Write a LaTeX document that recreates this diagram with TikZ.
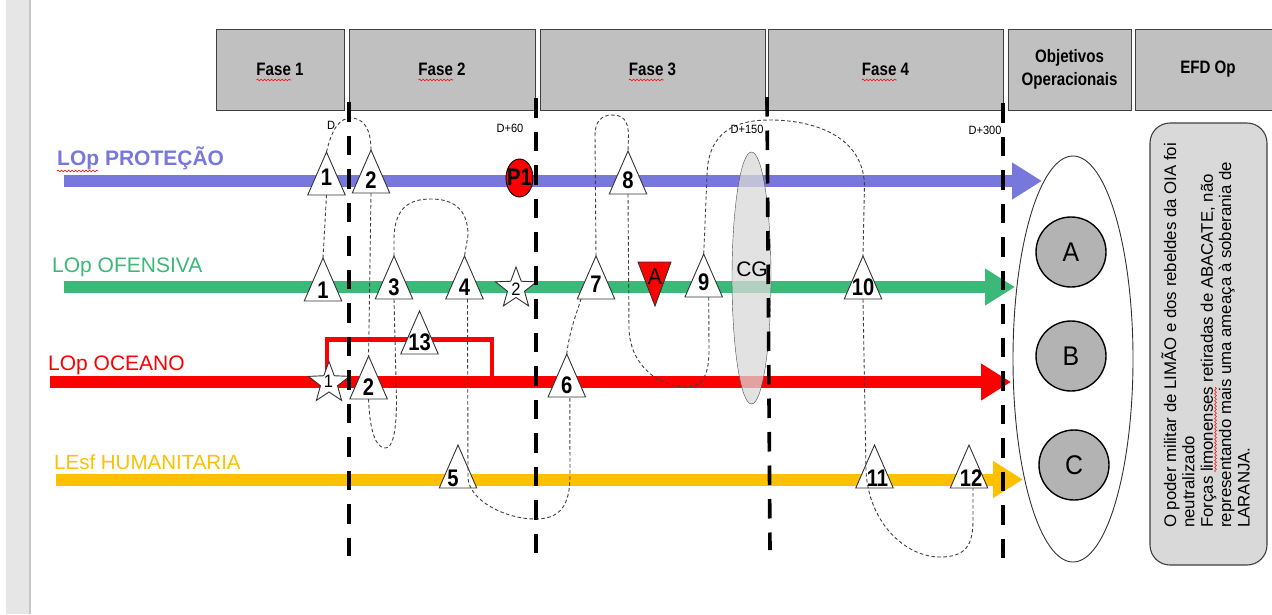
\documentclass[tikz,border=0pt]{standalone}
\usepackage{fontspec}
\setmainfont{Liberation Sans}
\newfontfamily\nb[FakeStretch=0.84]{Liberation Sans}
\newfontfamily\nr[FakeStretch=0.92]{Liberation Sans}
\usetikzlibrary{shapes.geometric,arrows.meta,decorations.pathmorphing}
\newcommand{\fsz}[1]{\fontsize{#1}{#1}\selectfont}
\definecolor{cblue}{HTML}{7878DC}
\definecolor{cgreen}{HTML}{3CB878}
\definecolor{cyellow}{HTML}{FFC000}
\definecolor{hdrgray}{HTML}{C0C0C0}
\definecolor{circgray}{HTML}{B3B3B3}
\definecolor{boxgray}{HTML}{D9D9D9}
\definecolor{stripgray}{HTML}{E6E6E6}
\tikzset{
  hdr/.style={draw=black!75, fill=hdrgray, line width=1pt, minimum height=81pt,
    font=\nb\bfseries\fsz{18}, inner sep=0pt, align=center},
  numlab/.style={font=\nb\bfseries\fsz{24}, inner sep=0pt, anchor=base},
  triline/.style={draw=black!80, line width=0.9pt, fill=white, line join=miter},
  snk/.style={draw=black!75, line width=0.9pt, dash pattern=on 3.5pt off 2.5pt},
  vline/.style={draw=black, line width=3.6pt, dash pattern=on 19.5pt off 14pt},
  dlab/.style={font=\nr\fsz{12}, inner sep=0pt},
  lineName/.style={anchor=base west, inner sep=0pt},
  bigarrow/.style={line width=12pt, draw=#1, -{Triangle[length=30pt,width=35pt]}},
  wavy/.style={draw=red, line width=0.6pt, decorate,
    decoration={snake, amplitude=0.9pt, segment length=3.5pt}},
  starshape/.style={star, star points=5, star point ratio=2.4, minimum size=43pt,
    inner sep=0pt, draw=black!80, fill=white, line width=0.9pt},
  starlab/.style={font=\nr\fsz{18}, inner sep=0pt},
  objc/.style={circle, draw=black, line width=1.4pt, fill=circgray, minimum size=70pt,
    inner sep=0pt, font=\nr\fsz{27}},
  efdtext/.style={rotate=90, anchor=base west, inner sep=0pt, font=\fsz{16.8}},
  pics/tri/.style n args={3}{code={
    \draw[triline] (-18.75,0) -- (0,-43) -- (18.75,0) -- cycle;
    \coordinate (-bot) at (0,0);
    \coordinate (-top) at (0,-43);
    \node[numlab] (-lab) at (#3,-#2) {#1};
  }},
}
\begin{document}
\begin{tikzpicture}[x=1pt,y=-1pt]
\useasboundingbox (0,0) rectangle (1272,614);
\fill[white] (0,0) rectangle (1272,614);
% left strip
\fill[stripgray] (6,0) rectangle (29.3,614);
\draw[black!22, line width=1.2pt] (29.9,0) -- (29.9,614);

% header boxes
\node[hdr, minimum width=128pt] (f1) at (280,69.5) {Fase 1};
\node[hdr, minimum width=186pt] (f2) at (442,69.5) {Fase 2};
\node[hdr, minimum width=225pt] (f3) at (652.5,69.5) {Fase 3};
\node[hdr, minimum width=235pt] (f4) at (885.5,69.5) {Fase 4};
\node[hdr, minimum width=123pt, font=\nb\bfseries\fontsize{18}{23.5}\selectfont] (obj) at (1069.5,69.5) {Objetivos\\Operacionais};
\node[hdr, minimum width=146pt] (efd) at (1208,69.5) {EFD Op};
\draw[wavy] (256.5,80) -- (291,80);
\draw[wavy] (418.5,80) -- (453,80);
\draw[wavy] (629,80) -- (663.5,80);
\draw[wavy] (862,80) -- (896.5,80);

% objectives ellipse and circles
\node[ellipse, draw=black!80, line width=0.9pt, fill=white, minimum width=120pt, minimum height=406pt, inner sep=0pt] (objell) at (1073,359) {};
\node[objc] (oa) at (1071,252) {A};
\node[objc] (ob) at (1071,356) {B};
\node[objc] (oc) at (1074,465) {C};

% EFD box
\node[draw=black!75, fill=boxgray, line width=1.1pt, rounded corners=20pt, minimum width=117pt, minimum height=442pt, inner sep=0pt] (efdbox) at (1208.5,344) {};
\node[efdtext] (e1) at (1176,528) {O poder militar de LIMÃO e dos rebeldes da OIA foi};
\node[efdtext] (e2) at (1194.4,528) {neutralizado};
\node[efdtext] (e3) at (1212.8,528) {Forças limonenses retiradas de ABACATE, não};
\node[efdtext] (e4) at (1231.2,528) {representando mais uma ameaça à soberania de};
\node[efdtext] (e5) at (1249.6,528) {LARANJA.};
\draw[wavy] (1215.5,472) -- (1215.5,387);

% line names
\node[lineName, font=\bfseries\fsz{21}, text=cblue] (lprot) at (57,165) {LOp PROTEÇÃO};
\draw[wavy] (57,171) -- (98,171);
\node[lineName, font=\fsz{21}, text=cgreen] (lofe) at (52,272) {LOp OFENSIVA};
\node[lineName, font=\fsz{21}, text=red] (loce) at (48,370) {LOp OCEANO};
\node[lineName, font=\fsz{20.5}, text=cyellow] (lhum) at (54,469) {LEsf HUMANITARIA};

% big arrows
\coordinate (bS) at (64,181);   \coordinate (bE) at (1042,181);
\coordinate (gS) at (64,287);   \coordinate (gE) at (1015,287);
\coordinate (rS) at (50,382);   \coordinate (rE) at (1011,382);
\coordinate (yS) at (56,479.5); \coordinate (yE) at (1023,479.5);
\draw[bigarrow=cblue] (bS) -- (bE);
\draw[bigarrow=cgreen] (gS) -- (gE);
\draw[bigarrow=red] (rS) -- (rE);
\draw[bigarrow=cyellow] (yS) -- (yE);

% red bracket
\coordinate (k1) at (327,382); \coordinate (k2) at (327,339.5);
\coordinate (k3) at (492,339.5); \coordinate (k4) at (492,380);
\draw[red, line width=4.5pt, line join=miter] (k1) -- (k2) -- (k3) -- (k4);

% triangles
\pic (b1) at (326.5,195) {tri={1}{10}{0}};
\pic (b2) at (371,193) {tri={2}{5}{0}};
\pic (b8) at (628,194) {tri={8}{6}{0}};
\pic (g1) at (323,301) {tri={1}{3}{0}};
\pic (g3) at (394,299) {tri={3}{4}{0}};
\pic (g4) at (464.5,299) {tri={4}{4}{0}};
\pic (g7) at (596,299) {tri={7}{7}{0}};
\pic (g9) at (703.7,297) {tri={9}{7}{0}};
\pic (g10) at (863,299) {tri={10}{4}{0}};
\pic (t13) at (419.5,354) {tri={13}{4}{0}};
\pic (r2) at (368.6,399) {tri={2}{4}{0}};
\pic (r6) at (566.8,397) {tri={6}{4}{0}};
\pic (t5) at (458,488) {tri={5}{2}{-5}};
\pic (t11) at (874.5,488) {tri={11}{2}{3}};
\pic (t12) at (969,488) {tri={12}{2}{2}};

% stars
\node[starshape] (s1) at (329,383) {};
\node[starlab] (s1l) at (328.6,381) {1};
\node[starshape] (s2) at (516,288.5) {};
\node[starlab] (s2l) at (516,289) {2};

% P1
\node[ellipse, draw=black, fill=red, line width=0.9pt, minimum width=27pt, minimum height=38pt, inner sep=0pt] (p1) at (519.5,178) {};
\node[numlab] (p1l) at (519.5,185) {P1};

% red inverted triangle A
\coordinate (a1) at (638,262); \coordinate (a2) at (671,262); \coordinate (a3) at (655,306);
\draw[fill=red, draw=black!80, line width=0.9pt] (a1) -- (a2) -- (a3) -- cycle;
\node[font=\nr\fsz{23}, inner sep=0pt] (alab) at (655,277) {A};

% dashed snake
\draw[snk] (g1-top) -- (b1-bot);
\draw[snk] (b1-top) .. controls (332,128) and (340,118) .. (351,118) .. controls (363,118) and (371,128) .. (b2-top);
\draw[snk] (b2-bot) -- (r2-top);
\draw[snk] (r2-bot) .. controls (370,440) and (379,448) .. (385.5,448) .. controls (393,448) and (396.5,430) .. (396.5,400) -- (g3-bot);
\draw[snk] (g3-top) -- (394,240) .. controls (394,207) and (410,199) .. (431,199) .. controls (452,199) and (468,208) .. (468,235) -- (g4-top);
\draw[snk] ([xshift=3pt]g4-bot) -- (468,478) .. controls (469,500) and (505,519) .. (535,519) .. controls (560,519) and (570,506) .. (570,475) -- ([xshift=3pt]r6-bot);
\draw[snk] (r6-top) .. controls (569,332) and (577,312) .. ([xshift=-15pt]g7-bot);
\draw[snk] (g7-top) -- (595,135) .. controls (595,121) and (602,115) .. (612,115) .. controls (623,115) and (628,120) .. (628.5,135) -- (b8-top);
\draw[snk] (b8-bot) -- (629,330) .. controls (631,367) and (660,387) .. (687,387) .. controls (703,387) and (709,374) .. (709,350) -- ([xshift=5pt]g9-bot);
\draw[snk] (g9-top) -- (707,175) .. controls (708,132) and (735,120) .. (770,120) .. controls (812,120) and (863,135) .. (864.5,185) -- (g10-top);
\draw[snk] (g10-bot) -- (866,470) .. controls (868,522) and (905,557) .. (940,557) .. controls (966,557) and (973,545) .. (973,520) -- ([xshift=4pt]t12-bot);

% CG ellipse
\node[ellipse, draw=black!70, fill=boxgray, fill opacity=0.75, minimum width=39pt, minimum height=252pt, inner sep=0pt] (cg) at (751.5,278) {};
\node[font=\fsz{21}, inner sep=0pt] (cgl) at (752,269.5) {CG};

% vertical phase lines
\coordinate (dT) at (349,102);    \coordinate (dB) at (349,556);
\coordinate (d60T) at (536,98);   \coordinate (d60B) at (536,553);
\coordinate (d150T) at (767,97);  \coordinate (d150B) at (770,550);
\coordinate (d300T) at (1003,103);\coordinate (d300B) at (1003,560);
\draw[vline] (dT) -- (dB);
\draw[vline] (d60T) -- (d60B);
\draw[vline] (d150T) -- (d150B);
\draw[vline] (d300T) -- (d300B);
\node[dlab] (ld) at (331,125) {D};
\node[dlab] (ld60) at (510,128) {D+60};
\node[dlab] (ld150) at (747,129) {D+150};
\node[dlab] (ld300) at (985,130) {D+300};
\end{tikzpicture}
\end{document}
